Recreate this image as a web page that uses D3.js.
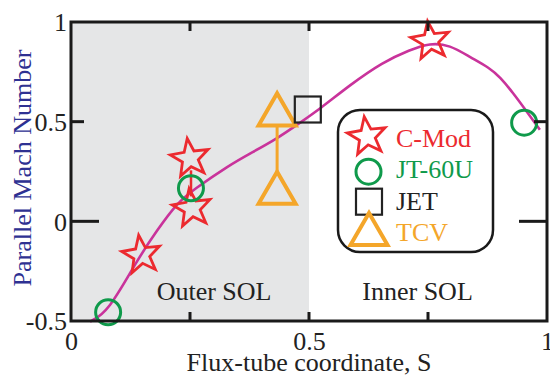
<!DOCTYPE html>
<html>
<head>
<meta charset="utf-8">
<script src="https://cdn.jsdelivr.net/npm/d3@7"></script>
<style>
  html, body { margin: 0; padding: 0; background: #fff; }
  svg { display: block; }
  text { font-family: "Liberation Serif", "Times New Roman", serif; }
</style>
</head>
<body>
<svg id="chart" width="550" height="376"></svg>
<script>
// Parallel Mach number along the flux tube: fitted profile
const curveS = [0.040, 0.078, 0.139, 0.181, 0.223, 0.256, 0.334, 0.376, 0.435, 0.481, 0.523, 0.586, 0.655, 0.712, 0.754, 0.796, 0.838, 0.880, 0.901, 0.929, 0.958, 0.985];
const curveM = [-0.503, -0.455, -0.194, -0.044, 0.092, 0.157, 0.284, 0.340, 0.418, 0.495, 0.564, 0.684, 0.799, 0.860, 0.895, 0.885, 0.824, 0.769, 0.724, 0.644, 0.549, 0.460];

// Measurements per machine
const cmodS = [0.148, 0.250, 0.254, 0.755];
const cmodM = [-0.169, 0.316, 0.065, 0.905];
const jt60S = [0.078, 0.252, 0.952];
const jt60M = [-0.456, 0.166, 0.495];
const jetS = [0.4975];
const jetM = [0.561];
const tcvS = [0.433, 0.433];
const tcvM = [0.535, 0.142];

const xTicks = [0, 0.5, 1];
const yTicks = [-0.5, 0, 0.5, 1];
const legendNames = ["C-Mod", "JT-60U", "JET", "TCV"];

const RED = "#ec2a2f", GREEN = "#0f9a4b", ORANGE = "#f4a62a", MAGENTA = "#c9339b";
const BLUE = "#2e3192", GRAY = "#e5e6e7";

const svg = d3.select("#chart");
const x = d3.scaleLinear().domain([0, 1]).range([71, 547]);
const y = d3.scaleLinear().domain([-0.5, 1]).range([321, 22]);

// Outer SOL region
svg.append("rect")
  .attr("x", x(0)).attr("y", y(1))
  .attr("width", x(0.5) - x(0)).attr("height", y(-0.5) - y(1))
  .attr("fill", GRAY);

// Region labels
svg.append("text").attr("x", x(0.18)).attr("y", 300)
  .attr("font-size", 26).attr("fill", "#222").text("Outer SOL");
svg.append("text").attr("x", x(0.612)).attr("y", 300)
  .attr("font-size", 26).attr("fill", "#222").text("Inner SOL");

// Fitted profile
const line = d3.line().x(d => x(d[0])).y(d => y(d[1])).curve(d3.curveBasis);
svg.append("path")
  .datum(d3.zip(curveS, curveM))
  .attr("d", line)
  .attr("fill", "none").attr("stroke", MAGENTA).attr("stroke-width", 2.6);

// Marker shapes
const STAR_R = 20, STAR_ROT = -8 * Math.PI / 180;
function starPath(R) {
  const r = R * 0.42, pts = [];
  for (let i = 0; i < 10; i++) {
    const a = -Math.PI / 2 + STAR_ROT + i * Math.PI / 5;
    const rr = i % 2 === 0 ? R : r;
    pts.push([rr * Math.cos(a), rr * Math.sin(a)]);
  }
  return "M" + pts.map(p => p.join(",")).join("L") + "Z";
}
const TRI_H = 10.7; // distance centroid -> base
function triPath(h) {
  const w = Math.sqrt(3) * h;
  return `M0,${-2 * h}L${w},${h}L${-w},${h}Z`;
}
const SQ = 26, CIRC_R = 12.5;

// Error bars linking paired readings
svg.append("line")
  .attr("x1", x(cmodS[1]) + 1).attr("x2", x(cmodS[1]) + 1)
  .attr("y1", y(cmodM[1]) + 12).attr("y2", y(cmodM[2]) - 12)
  .attr("stroke", RED).attr("stroke-width", 2.5);
svg.append("line")
  .attr("x1", x(tcvS[0])).attr("x2", x(tcvS[0]))
  .attr("y1", y(tcvM[0]) + TRI_H).attr("y2", y(tcvM[1]) - 2 * TRI_H)
  .attr("stroke", ORANGE).attr("stroke-width", 3);

// TCV
svg.selectAll(".tcv").data(d3.zip(tcvS, tcvM)).join("path")
  .attr("transform", d => `translate(${x(d[0])},${y(d[1])})`)
  .attr("d", triPath(TRI_H))
  .attr("fill", "none").attr("stroke", ORANGE).attr("stroke-width", 4).attr("stroke-linejoin", "miter");

// JET
svg.selectAll(".jet").data(d3.zip(jetS, jetM)).join("rect")
  .attr("x", d => x(d[0]) - SQ / 2).attr("y", d => y(d[1]) - SQ / 2)
  .attr("width", SQ).attr("height", SQ)
  .attr("fill", "none").attr("stroke", "#222").attr("stroke-width", 2.2);

// C-Mod
svg.selectAll(".cmod").data(d3.zip(cmodS, cmodM)).join("path")
  .attr("transform", d => `translate(${x(d[0])},${y(d[1])})`)
  .attr("d", starPath(STAR_R))
  .attr("fill", "none").attr("stroke", RED).attr("stroke-width", 2.8).attr("stroke-linejoin", "miter");

// JT-60U
svg.selectAll(".jt").data(d3.zip(jt60S, jt60M)).join("circle")
  .attr("cx", d => x(d[0])).attr("cy", d => y(d[1])).attr("r", CIRC_R)
  .attr("fill", "none").attr("stroke", GREEN).attr("stroke-width", 3);

// Frame
svg.append("rect")
  .attr("x", x(0)).attr("y", y(1))
  .attr("width", x(1) - x(0)).attr("height", y(-0.5) - y(1))
  .attr("fill", "none").attr("stroke", "#1a1a1a").attr("stroke-width", 3);

// Inward tick marks
const tickG = svg.append("g").attr("stroke", "#1a1a1a").attr("stroke-width", 3);
[0.25, 0.5, 0.75].forEach(v => {
  tickG.append("line").attr("x1", x(v)).attr("x2", x(v)).attr("y1", y(1)).attr("y2", y(1) + 9);
  tickG.append("line").attr("x1", x(v)).attr("x2", x(v)).attr("y1", y(-0.5)).attr("y2", y(-0.5) - 9);
});
[[0, 28], [0.5, 13]].forEach(([v, len]) => {
  tickG.append("line").attr("x1", x(0)).attr("x2", x(0) + len).attr("y1", y(v)).attr("y2", y(v));
  tickG.append("line").attr("x1", x(1)).attr("x2", x(1) - len).attr("y1", y(v)).attr("y2", y(v));
});

// Tick labels via axes
const fmt = v => String(v);
const yAxis = svg.append("g").attr("transform", `translate(${x(0) - 4},0)`)
  .call(d3.axisLeft(y).tickValues(yTicks).tickFormat(fmt).tickSize(0).tickPadding(0));
yAxis.select(".domain").remove();
yAxis.selectAll("text").attr("font-size", 26).attr("fill", "#222")
  .attr("font-family", "Liberation Serif, serif").attr("dy", "0.34em");

const xAxis = svg.append("g").attr("transform", `translate(0,${y(-0.5) + 11})`)
  .call(d3.axisBottom(x).tickValues(xTicks).tickFormat(fmt).tickSize(0).tickPadding(0));
xAxis.select(".domain").remove();
xAxis.selectAll("text").attr("font-size", 26).attr("fill", "#222")
  .attr("font-family", "Liberation Serif, serif").attr("dy", "0.71em");

// Axis titles
svg.append("text")
  .attr("x", x(0.5)).attr("y", 371).attr("text-anchor", "middle")
  .attr("font-size", 26).attr("fill", "#222").text("Flux-tube coordinate, S");
svg.append("text")
  .attr("transform", `translate(31,168) rotate(-90)`).attr("text-anchor", "middle")
  .attr("font-size", 26).attr("fill", BLUE).text("Parallel Mach Number");

// Legend
const leg = svg.append("g").attr("transform", "translate(338,110)");
leg.append("rect").attr("width", 155).attr("height", 142).attr("rx", 22).attr("ry", 22)
  .attr("fill", "#fff").attr("stroke", "#1a1a1a").attr("stroke-width", 2.5);
const legColors = [RED, GREEN, "#222", ORANGE];
const legBase = [36.5, 68.3, 100, 130.7];
leg.append("path").attr("transform", "translate(29,26.5)").attr("d", starPath(STAR_R))
  .attr("fill", "none").attr("stroke", RED).attr("stroke-width", 2.8);
leg.append("circle").attr("cx", 30.5).attr("cy", 61.7).attr("r", CIRC_R)
  .attr("fill", "none").attr("stroke", GREEN).attr("stroke-width", 3);
leg.append("rect").attr("x", 31 - SQ / 2).attr("y", 91.7 - SQ / 2).attr("width", SQ).attr("height", SQ)
  .attr("fill", "none").attr("stroke", "#222").attr("stroke-width", 2.2);
leg.append("path").attr("transform", "translate(31,124.4)").attr("d", triPath(TRI_H))
  .attr("fill", "none").attr("stroke", ORANGE).attr("stroke-width", 4);
legendNames.forEach((n, i) => {
  leg.append("text").attr("x", 58).attr("y", legBase[i])
    .attr("font-size", 26).attr("fill", legColors[i]).text(n);
});
</script>
</body>
</html>
